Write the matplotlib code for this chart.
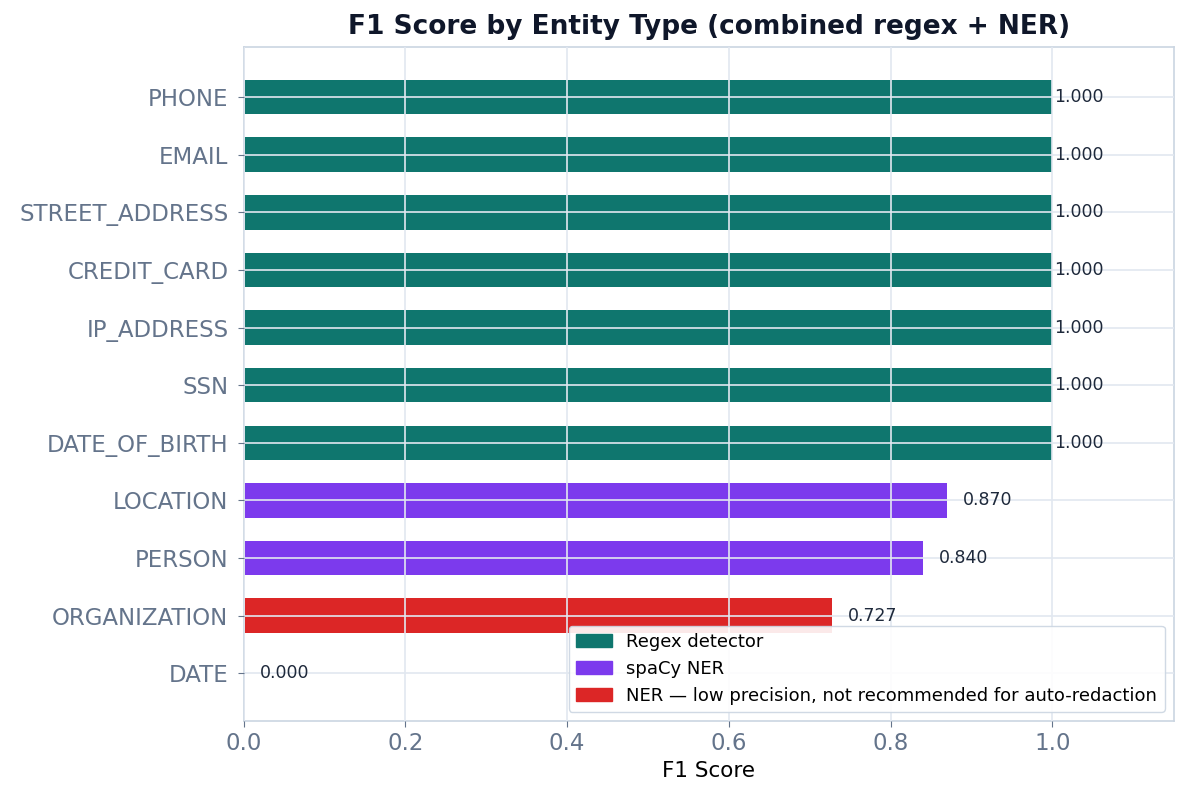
import matplotlib.pyplot as plt
from matplotlib.patches import Patch

plt.rcParams['font.family'] = ['DejaVu Sans']

entities = ["PHONE", "EMAIL", "STREET_ADDRESS", "CREDIT_CARD", "IP_ADDRESS", "SSN",
            "DATE_OF_BIRTH", "LOCATION", "PERSON", "ORGANIZATION", "DATE"]
f1_scores = [1.0, 1.0, 1.0, 1.0, 1.0, 1.0, 1.0, 0.870, 0.840, 0.727, 0.0]
sources = ["regex"] * 7 + ["ner", "ner", "low", "ner"]

colors = {"regex": "#0f766e", "ner": "#7c3aed", "low": "#dc2626"}
legend_labels = {"regex": "Regex detector", "ner": "spaCy NER",
                 "low": "NER \u2014 low precision, not recommended for auto-redaction"}

fig, ax = plt.subplots(figsize=(11.89, 8.05), dpi=100)
fig.subplots_adjust(left=0.205, right=0.987, top=0.9416, bottom=0.1043)

y = list(range(len(entities)))
ax.barh(y, f1_scores, height=0.6, color=[colors[s] for s in sources], zorder=1)

for yi, v in zip(y, f1_scores):
    ax.text(min(v + 0.02, 1.002), yi, f"{v:.3f}", va="center", ha="left",
            fontsize=12.5, color="#1e293b", zorder=4)

ax.set_yticks(y)
ax.set_yticklabels(entities)
ax.set_ylim(10.83, -0.87)
ax.set_xlim(0, 1.15)

ax.grid(True, color="#e2e8f0", linewidth=1.2, zorder=3)
ax.set_axisbelow(False)
for sp in ax.spines.values():
    sp.set_color("#cbd5e1")
    sp.set_linewidth(1.2)
ax.tick_params(colors="#64748b", labelsize=16.5, length=4.5)
ax.tick_params(axis="y", pad=6.5)

ax.set_xlabel("F1 Score", fontsize=15.5, color="black")
ax.set_title("F1 Score by Entity Type (combined regex + NER)", fontsize=19,
             fontweight="bold", color="#0f172a", pad=9.5)

handles = [Patch(color=colors[k], label=legend_labels[k]) for k in ["regex", "ner", "low"]]
leg = ax.legend(handles=handles, loc="lower right", fontsize=13, framealpha=0.9,
                edgecolor="#cbd5e1")
leg.set_zorder(5)

fig.savefig("out.png", dpi=100)
